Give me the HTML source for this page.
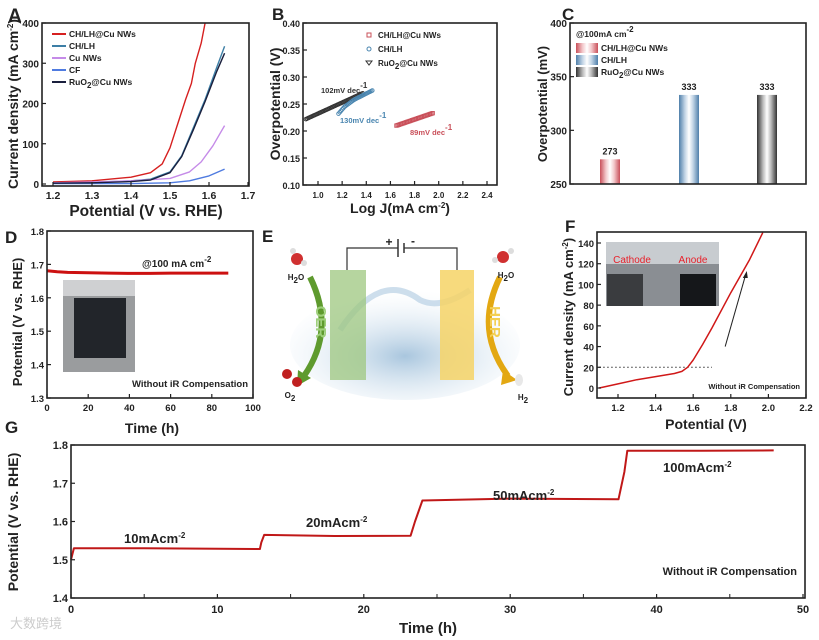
<!DOCTYPE html>
<html><head><meta charset="utf-8">
<style>
html,body{margin:0;padding:0;background:#fff;}
svg{display:block;font-family:"Liberation Sans",Arial,sans-serif;}
</style></head>
<body>
<svg id="fig" width="819" height="640" viewBox="0 0 819 640" xmlns="http://www.w3.org/2000/svg">
<defs>
<linearGradient id="gR" x1="0" x2="1"><stop offset="0" stop-color="#c9505a"/><stop offset="0.3" stop-color="#f3c9cc"/><stop offset="0.5" stop-color="#fff"/><stop offset="0.7" stop-color="#f3c9cc"/><stop offset="1" stop-color="#c9505a"/></linearGradient>
<linearGradient id="gB" x1="0" x2="1"><stop offset="0" stop-color="#4f7faa"/><stop offset="0.3" stop-color="#c3d5e6"/><stop offset="0.5" stop-color="#fff"/><stop offset="0.7" stop-color="#c3d5e6"/><stop offset="1" stop-color="#4f7faa"/></linearGradient>
<linearGradient id="gK" x1="0" x2="1"><stop offset="0" stop-color="#333"/><stop offset="0.3" stop-color="#bbb"/><stop offset="0.5" stop-color="#fff"/><stop offset="0.7" stop-color="#bbb"/><stop offset="1" stop-color="#333"/></linearGradient>
<radialGradient id="gW" cx="0.5" cy="0.6" r="0.6"><stop offset="0" stop-color="#a9c6de"/><stop offset="1" stop-color="#eaf2f8" stop-opacity="0"/></radialGradient>
</defs>
<g id="root"></g>
</svg>
<script>
// ---- Panel A data ----
const aSeriesNames = ["CH/LH@Cu NWs","CH/LH","Cu NWs","CF","RuO2@Cu NWs"];
const aColors = ["#d62020","#3d7fa6","#c58be8","#4f7be0","#1a1f3d"];
const aCHLHCu = [[1.2,5],[1.3,8],[1.4,17],[1.45,28],[1.48,50],[1.5,90],[1.52,150],[1.54,210],[1.555,250],[1.565,300],[1.58,350],[1.59,400]];
const aCHLH = [[1.2,2],[1.3,4],[1.4,8],[1.45,12],[1.5,30],[1.53,70],[1.56,140],[1.59,210],[1.62,290],[1.64,342]];
const aCuNWs = [[1.2,3],[1.3,5],[1.4,8],[1.5,14],[1.55,30],[1.58,55],[1.61,95],[1.64,145]];
const aCF = [[1.2,1],[1.4,1],[1.5,3],[1.55,8],[1.6,20],[1.64,37]];
const aRuO2 = [[1.2,2],[1.3,3],[1.4,6],[1.45,10],[1.5,28],[1.53,68],[1.56,135],[1.59,205],[1.62,280],[1.64,325]];
const aXTicks = [1.2,1.3,1.4,1.5,1.6,1.7];
const aYTicks = [0,100,200,300,400];
// ---- Panel B data ----
const bRuO2 = [[0.9,0.222],[1.37,0.270]];
const bCHLH = [[1.17,0.232],[1.22,0.245],[1.3,0.258],[1.45,0.275]];
const bCHLHCu = [[1.65,0.210],[1.95,0.233]];
const bXTicks = [1.0,1.2,1.4,1.6,1.8,2.0,2.2,2.4];
const bYTicks = [0.10,0.15,0.20,0.25,0.30,0.35,0.40];
const bSlopes = ["102mV dec","130mV dec","89mV dec"];
// ---- Panel C data ----
const cCategories = ["CH/LH@Cu NWs","CH/LH","RuO2@Cu NWs"];
const cValues = [273,333,333];
const cYTicks = [250,300,350,400];
// ---- Panel D data ----
const dTime = [0,5,10,20,30,40,50,60,70,80,88];
const dPot = [1.681,1.678,1.676,1.675,1.674,1.673,1.673,1.674,1.674,1.674,1.674];
const dXTicks = [0,20,40,60,80,100];
const dYTicks = [1.3,1.4,1.5,1.6,1.7,1.8];
// ---- Panel F data ----
const fV = [1.1,1.2,1.3,1.4,1.5,1.54,1.57,1.6,1.65,1.7,1.8,1.9,1.97];
const fJ = [0,4,8,11,14,16,20,27,42,58,92,124,150];
const fXTicks = [1.2,1.4,1.6,1.8,2.0,2.2];
const fYTicks = [0,20,40,60,80,100,120,140];
// ---- Panel G data ----
const gTime = [0,0.2,5,12.9,13.0,13.2,18,23.2,23.5,24.0,30,37.4,37.8,38.0,43,48];
const gPot = [1.50,1.530,1.530,1.528,1.545,1.565,1.562,1.563,1.600,1.655,1.660,1.658,1.730,1.785,1.785,1.786];
const gXTicks = [0,10,20,30,40,50];
const gYTicks = [1.4,1.5,1.6,1.7,1.8];
const gLabels = ["10mAcm","20mAcm","50mAcm","100mAcm"];

const NS="http://www.w3.org/2000/svg";
const root=document.getElementById('root');
function mk(tag,attrs,name,parent){const e=document.createElementNS(NS,tag);for(const k in attrs)e.setAttribute(k,attrs[k]);


(parent||root).appendChild(e);return e;}
function txt(x,y,s,size,name,opt){opt=opt||{};const e=mk('text',{x:x,y:y,'font-size':size,'font-weight':opt.w||'bold',fill:opt.fill||'#222','text-anchor':opt.a||'middle'},name);
if(opt.rot)e.setAttribute('transform','rotate('+opt.rot+' '+x+' '+y+')');e.textContent=s;return e;}
function sup(parentText,s){const t=document.createElementNS(NS,'tspan');t.setAttribute('dy','-5');t.setAttribute('font-size','8');t.textContent=s;parentText.appendChild(t);}
function sub(parentText,s,after){const t=document.createElementNS(NS,'tspan');t.setAttribute('dy','3');t.setAttribute('font-size','8');t.textContent=s;parentText.appendChild(t);if(after){const u=document.createElementNS(NS,'tspan');u.setAttribute('dy','-3');u.textContent=after;parentText.appendChild(u);}}
function lin(d0,d1,r0,r1){return v=>r0+(v-d0)*(r1-r0)/(d1-d0);}
function box(x0,y0,x1,y1,name){mk('rect',{x:x0,y:y0,width:x1-x0,height:y1-y0,fill:'none',stroke:'#222','stroke-width':1.6},name);}
function xt(sx,ticks,yb,name,fmt,size,off){ticks.forEach(v=>{mk('line',{x1:sx(v),x2:sx(v),y1:yb,y2:yb-4,stroke:'#222','stroke-width':1.2},name+'-tick');txt(sx(v),yb+(off||13),fmt(v),size||10,name+'-label');});}
function yt(sy,ticks,xl,name,fmt,size){ticks.forEach(v=>{mk('line',{x1:xl,x2:xl+4,y1:sy(v),y2:sy(v),stroke:'#222','stroke-width':1.2},name+'-tick');txt(xl-3,sy(v)+4,fmt(v),size||10,name+'-label',{a:'end'});});}
function path(pts,sx,sy,color,w,name,dash){const d=pts.map((p,i)=>(i?'L':'M')+sx(p[0]).toFixed(1)+' '+sy(p[1]).toFixed(1)).join(' ');return mk('path',{d:d,fill:'none',stroke:color,'stroke-width':w,'stroke-dasharray':dash||'none','stroke-linejoin':'round'},name);}

// ===== Panel B (drawn first so its mask never covers panel A) =====
(function(){const sx=lin(1.0,2.4,318,487),sy=lin(0.10,0.40,185,23);
txt(272,20,'B',17,'panel-b-letter',{a:'start'});
function markers(pts,color,shape,name){for(let i=0;i<pts.length-1;i++){const a=pts[i],b=pts[i+1];const n=Math.max(4,Math.round(Math.abs(sx(b[0])-sx(a[0]))/1.2));for(let k=0;k<=n;k++){const x=a[0]+(b[0]-a[0])*k/n,y=a[1]+(b[1]-a[1])*k/n;
if(shape=='c')mk('circle',{cx:sx(x),cy:sy(y),r:1.8,fill:'none',stroke:color,'stroke-width':0.9},name);
else mk('rect',{x:sx(x)-1.7,y:sy(y)-1.7,width:3.4,height:3.4,fill:'none',stroke:color,'stroke-width':0.9},name);}}}
markers(bRuO2,'#333','c','marker-ruo2');markers(bCHLH,'#4a86b0','c','marker-chlh');markers(bCHLHCu,'#c9505a','s','marker-chlh-cu');
mk('rect',{x:285,y:22,width:17,height:170,fill:'#fff'},'b-mask');
box(303,23,497,185,'panel-b-plot-area');
xt(sx,bXTicks,185,'b-x-tick',v=>v.toFixed(1),8);
yt(sy,bYTicks,303,'b-y-tick',v=>v.toFixed(2),9);
const xl=txt(400,213,'Log J(mA cm',14,'b-x-axis-title');sup(xl,'-2');const c=document.createElementNS(NS,'tspan');c.setAttribute('dy','5');c.textContent=')';xl.appendChild(c);
txt(280,104,'Overpotential (V)',14,'b-y-axis-title',{rot:-90});
const lg=[['CH/LH@Cu NWs','#c9505a','s'],['CH/LH','#4a86b0','c'],['RuO','#333','t']];
lg.forEach((l,i)=>{const y=35+i*14;if(l[2]=='s')mk('rect',{x:367,y:y-2,width:4,height:4,fill:'none',stroke:l[1]},'legend-marker');else if(l[2]=='c')mk('circle',{cx:369,cy:y,r:2,fill:'none',stroke:l[1]},'legend-marker');else mk('path',{d:'M366 '+(y-2)+' L372 '+(y-2)+' L369 '+(y+2)+' Z',fill:'none',stroke:l[1]},'legend-marker');
const t=txt(378,y+3,l[0],8,'legend-entry',{a:'start'});if(i==2)sub(t,'2','@Cu NWs');});
const s1=txt(321,93,bSlopes[0],7.5,'slope-label-ruo2',{a:'start',fill:'#333'});sup(s1,'-1');
const s2=txt(340,123,bSlopes[1],7.5,'slope-label-chlh',{a:'start',fill:'#4a86b0'});sup(s2,'-1');
const s3=txt(410,135,bSlopes[2],7.5,'slope-label-chlh-cu',{a:'start',fill:'#c9505a'});sup(s3,'-1');
})();

// ===== Panel A =====
(function(){const sx=lin(1.2,1.7,53,248),sy=lin(0,400,184,23);
txt(8,22,'A',19,'panel-a-letter',{a:'start'});
const ser=[aCHLHCu,aCHLH,aCuNWs,aCF,aRuO2];
ser.forEach((s,i)=>path(s,sx,sy,aColors[i],1.4,'line-'+aSeriesNames[i].toLowerCase().replace(/[^a-z0-9]+/g,'-')));
box(42,23,249,186,'panel-a-plot-area');
xt(sx,aXTicks,186,'a-x-tick',v=>v.toFixed(1),10.5);
yt(sy,aYTicks,42,'a-y-tick',v=>String(v),10);
txt(146,216,'Potential (V vs. RHE)',15.5,'a-x-axis-title');
const yl=txt(18,104,'Current density (mA cm',14,'a-y-axis-title',{rot:-90});sup(yl,'-2');const cl=document.createElementNS(NS,'tspan');cl.setAttribute('dy','5');cl.textContent=')';yl.appendChild(cl);
aSeriesNames.forEach((n,i)=>{const y=34+i*12;mk('line',{x1:52,x2:66,y1:y,y2:y,stroke:aColors[i],'stroke-width':2},'legend-swatch');
const t=txt(69,y+3,i==4?'RuO':n,8.5,'legend-entry',{a:'start'});if(i==4)sub(t,'2','@Cu NWs');});
})();

// ===== Panel C =====
(function(){const sy=lin(250,400,184,23);const cx=[610,689,767];const fills=['url(#gR)','url(#gB)','url(#gK)'];
txt(562,20,'C',17,'panel-c-letter',{a:'start'});
cValues.forEach((v,i)=>{mk('rect',{x:cx[i]-10,y:sy(v),width:20,height:184-sy(v),fill:fills[i]},'bar-'+cCategories[i].toLowerCase().replace(/[^a-z0-9]+/g,'-'));
txt(cx[i],sy(v)-5,String(v),9,'bar-value-label');});
box(570,23,806,184,'panel-c-plot-area');
yt(sy,cYTicks,570,'c-y-tick',v=>String(v));
txt(547,104,'Overpotential (mV)',13,'c-y-axis-title',{rot:-90});
const h=txt(576,37,'@100mA cm',8.5,'c-legend-title',{a:'start'});sup(h,'-2');
cCategories.forEach((n,i)=>{const y=48+i*12;mk('rect',{x:576,y:y-5,width:22,height:10,fill:fills[i]},'legend-swatch');const t=txt(601,y+3,i==2?'RuO':n,8.5,'legend-entry',{a:'start'});if(i==2)sub(t,'2','@Cu NWs');});
})();

// ===== Panel D =====
(function(){const sx=lin(0,100,47,253),sy=lin(1.3,1.8,398,231);
txt(5,243,'D',17,'panel-d-letter',{a:'start'});
path(dTime.map((t,i)=>[t,dPot[i]]),sx,sy,'#cc1010',3,'line-stability-d');
mk('rect',{x:63,y:280,width:72,height:92,fill:'#9a9c9e'},'inset-photo-electrode');
mk('rect',{x:63,y:280,width:72,height:16,fill:'#cfd0d2'},'inset-photo-top');
mk('rect',{x:74,y:298,width:52,height:60,fill:'#22252a'},'inset-electrode-dark');
box(47,231,253,398,'panel-d-plot-area');
xt(sx,dXTicks,398,'d-x-tick',v=>String(v),9.5);
yt(sy,dYTicks,47,'d-y-tick',v=>v.toFixed(1),9.5);
txt(152,433,'Time (h)',14,'d-x-axis-title');
txt(22,322,'Potential (V vs. RHE)',13,'d-y-axis-title',{rot:-90});
const a=txt(142,267,'@100 mA cm',10,'d-annotation',{a:'start'});sup(a,'-2');
txt(248,387,'Without iR Compensation',9.5,'d-note',{a:'end'});
})();

// ===== Panel E =====
(function(){
txt(262,242,'E',17,'panel-e-letter',{a:'start'});
mk('ellipse',{cx:405,cy:345,rx:115,ry:55,fill:'url(#gW)'},'water-splash');
mk('path',{d:'M340 330 Q380 270 420 300 Q440 310 470 290',fill:'none',stroke:'#b8d0e4','stroke-width':6,opacity:0.7},'water-wave');
mk('path',{d:'M347 270 V248 H398 M404 248 H457 V270',fill:'none',stroke:'#333','stroke-width':1.2},'circuit-wire');
mk('line',{x1:398,x2:398,y1:239,y2:257,stroke:'#333','stroke-width':1.5},'battery-plate-pos');
mk('line',{x1:404,x2:404,y1:243,y2:253,stroke:'#333','stroke-width':1.5},'battery-plate-neg');
txt(389,246,'+',12,'plus-sign');txt(413,245,'-',12,'minus-sign');
mk('rect',{x:330,y:270,width:36,height:110,fill:'#9dc77f',opacity:0.75},'anode-electrode');
mk('rect',{x:440,y:270,width:34,height:110,fill:'#f6d466',opacity:0.85},'cathode-electrode');
mk('path',{d:'M310 277 Q336 330 304 376',fill:'none',stroke:'#5e9a2e','stroke-width':6},'oer-arrow');
mk('path',{d:'M298 370 L311 378 L297 386 Z',fill:'#5e9a2e'},'oer-arrowhead');
mk('path',{d:'M500 277 Q474 330 508 376',fill:'none',stroke:'#e3a812','stroke-width':6},'her-arrow');
mk('path',{d:'M503 370 L517 380 L501 385 Z',fill:'#e3a812'},'her-arrowhead');
txt(316,322,'OER',15,'oer-label',{rot:90,fill:'#9dcf7a'});
txt(490,322,'HER',15,'her-label',{rot:90,fill:'#f3cf52'});
mk('circle',{cx:297,cy:259,r:6,fill:'#d03030'},'water-molecule-left');mk('circle',{cx:293,cy:251,r:3,fill:'#ddd'},'h-atom');mk('circle',{cx:304,cy:263,r:3,fill:'#ddd'},'h-atom');
mk('circle',{cx:503,cy:257,r:6,fill:'#d03030'},'water-molecule-right');mk('circle',{cx:495,cy:260,r:3,fill:'#ddd'},'h-atom');mk('circle',{cx:511,cy:251,r:3,fill:'#ddd'},'h-atom');
mk('circle',{cx:287,cy:374,r:5,fill:'#c02020'},'o2-atom');mk('circle',{cx:297,cy:382,r:5,fill:'#c02020'},'o2-atom');
mk('ellipse',{cx:519,cy:380,rx:4,ry:6,fill:'#e8e8e8'},'h2-molecule');
const a=txt(296,280,'H',8,'h2o-label-left');sub(a,'2','O');
const b=txt(506,278,'H',8,'h2o-label-right');sub(b,'2','O');
const c=txt(290,398,'O',8,'o2-label');sub(c,'2');
const d=txt(523,400,'H',8,'h2-label');sub(d,'2');
})();

// ===== Panel F =====
(function(){const sx=lin(1.2,2.2,618,806),sy=lin(0,140,388,243);
txt(565,232,'F',17,'panel-f-letter',{a:'start'});
mk('line',{x1:sx(1.1),x2:sx(1.7),y1:sy(20),y2:sy(20),stroke:'#333','stroke-dasharray':'1.5,2.5'},'f-reference-line');
path(fV.map((v,i)=>[v,fJ[i]]),sx,sy,'#d01818',1.5,'line-polarization-f');
mk('line',{x1:sx(1.77),y1:sy(40),x2:sx(1.88),y2:sy(110),stroke:'#222','stroke-width':1},'scan-arrow');
mk('path',{d:'M'+sx(1.885)+' '+sy(113)+' l-4 7 l5 0 z',fill:'#222'},'scan-arrowhead');
mk('rect',{x:606,y:242,width:113,height:64,fill:'#8a8e93'},'inset-photo-cell');
mk('rect',{x:606,y:242,width:113,height:22,fill:'#c8ccd0'},'inset-photo-top');
mk('rect',{x:607,y:274,width:36,height:32,fill:'#3a3c3f'},'inset-cathode');
mk('rect',{x:680,y:274,width:36,height:32,fill:'#15171a'},'inset-anode');
txt(632,263,'Cathode',10,'cathode-label',{fill:'#e8202a',w:'normal'});
txt(693,263,'Anode',10,'anode-label',{fill:'#e8202a',w:'normal'});
box(597,232,806,398,'panel-f-plot-area');
xt(sx,fXTicks,398,'f-x-tick',v=>v.toFixed(1),9.5);
yt(sy,fYTicks,597,'f-y-tick',v=>String(v),9.5);
txt(706,429,'Potential (V)',14,'f-x-axis-title');
const y=txt(573,317,'Current density (mA cm',13,'f-y-axis-title',{rot:-90});sup(y,'-2');const cl=document.createElementNS(NS,'tspan');cl.setAttribute('dy','5');cl.textContent=')';y.appendChild(cl);
txt(800,389,'Without iR Compensation',7.5,'f-note',{a:'end'});
})();

// ===== Panel G =====
(function(){const sx=lin(0,50,71,803),sy=lin(1.4,1.8,598,445);
txt(5,433,'G',17,'panel-g-letter',{a:'start'});
path(gTime.map((t,i)=>[t,gPot[i]]),sx,sy,'#c01818',2,'line-stability-g');
box(71,445,805,598,'panel-g-plot-area');
xt(sx,gXTicks,598,'g-x-tick',v=>String(v),11,15);
[5,15,25,35,45].forEach(v=>mk('line',{x1:sx(v),x2:sx(v),y1:598,y2:594,stroke:'#222'},'g-minor-tick'));
yt(sy,gYTicks,71,'g-y-tick',v=>v.toFixed(1),11);
txt(428,633,'Time (h)',15,'g-x-axis-title');
txt(18,522,'Potential (V vs. RHE)',14,'g-y-axis-title',{rot:-90});
const lp=[[124,543],[306,527],[493,500],[663,472]];
gLabels.forEach((l,i)=>{const t=txt(lp[i][0],lp[i][1],l,13,'g-step-label',{a:'start'});sup(t,'-2');});
txt(797,575,'Without iR Compensation',11,'g-note',{a:'end'});
txt(10,628,'大数跨境',13,'watermark',{a:'start',fill:'#ccc',w:'normal'}).setAttribute('font-family','"Liberation Sans","Noto Sans CJK SC",sans-serif');
})();
</script>
</body></html>
